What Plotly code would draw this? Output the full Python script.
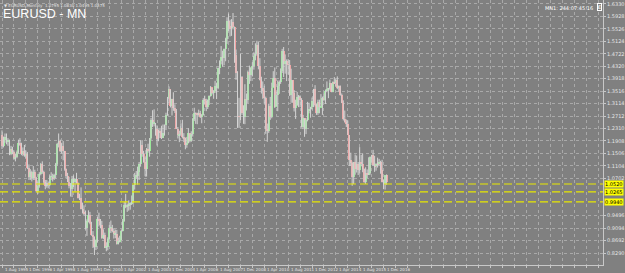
import pandas as pd
import plotly.graph_objects as go

# ---------------- data (monthly EURUSD, Aug 1995 .. Feb 2017) ----------------
opens = [
 1.2100, 1.1750, 1.1950, 1.2050, 1.1900,
 1.1900, 1.1500, 1.1650, 1.1550, 1.1350, 1.1400, 1.1550, 1.1850, 1.1800, 1.1500, 1.1600, 1.1450,
 1.1500, 1.1050, 1.0750, 1.0900, 1.0700, 1.0900, 1.0700, 1.0300, 1.0450, 1.0850, 1.1150, 1.0900,
 1.0600, 1.0450, 1.0550, 1.0500, 1.0750, 1.0750, 1.0700, 1.0800, 1.1150, 1.1800, 1.1900, 1.1600,
 1.1743, 1.1580, 1.0990, 1.0765, 1.0590, 1.0440, 1.0345, 1.0690, 1.0575, 1.0675, 1.0550, 1.0080,
 1.0070, 0.9705, 0.9630, 0.9570, 0.9110, 0.9330, 0.9530, 0.9260, 0.8860, 0.8810, 0.8490, 0.8700,
 0.9400, 0.9350, 0.9210, 0.8790, 0.8890, 0.8460, 0.8490, 0.8760, 0.9110, 0.9110, 0.9010, 0.8900,
 0.8900, 0.8590, 0.8680, 0.8720, 0.9010, 0.9330, 0.9850, 0.9790, 0.9810, 0.9860, 0.9890, 0.9940,
 1.0490, 1.0760, 1.0790, 1.0910, 1.1150, 1.1790, 1.1480, 1.1240, 1.0990, 1.1650, 1.1600, 1.1990,
 1.2590, 1.2480, 1.2480, 1.2290, 1.1970, 1.2200, 1.2170, 1.2020, 1.2170, 1.2420, 1.2760, 1.3280,
 1.3570, 1.3040, 1.3260, 1.2970, 1.2870, 1.2300, 1.2100, 1.2130, 1.2340, 1.2030, 1.1990, 1.1790,
 1.1840, 1.2150, 1.1920, 1.2120, 1.2620, 1.2810, 1.2790, 1.2760, 1.2810, 1.2680, 1.2760, 1.3240,
 1.3200, 1.3020, 1.3230, 1.3350, 1.3650, 1.3450, 1.3530, 1.3690, 1.3620, 1.4270, 1.4490, 1.4630,
 1.4590, 1.4860, 1.5190, 1.5790, 1.5610, 1.5550, 1.5750, 1.5600, 1.4670, 1.4090, 1.2710, 1.2690,
 1.3970, 1.2800, 1.2670, 1.3250, 1.3240, 1.4150, 1.4030, 1.4250, 1.4330, 1.4640, 1.4720, 1.5000,
 1.4340, 1.3860, 1.3630, 1.3510, 1.3300, 1.2300, 1.2230, 1.3050, 1.2690, 1.3630, 1.3940, 1.3000,
 1.3380, 1.3690, 1.3800, 1.4160, 1.4810, 1.4390, 1.4500, 1.4390, 1.4370, 1.3390, 1.3870, 1.3450,
 1.2960, 1.3080, 1.3320, 1.3340, 1.3240, 1.2370, 1.2660, 1.2310, 1.2580, 1.2860, 1.2950, 1.2990,
 1.3190, 1.3580, 1.3060, 1.2820, 1.3170, 1.3000, 1.3010, 1.3300, 1.3220, 1.3530, 1.3580, 1.3590,
 1.3790, 1.3490, 1.3810, 1.3770, 1.3870, 1.3630, 1.3690, 1.3390, 1.3130, 1.2630, 1.2520, 1.2450,
 1.2100, 1.1290, 1.1190, 1.0730, 1.1220, 1.0990, 1.1150, 1.0980, 1.1210, 1.1170, 1.1000, 1.0570,
 1.0860, 1.0830, 1.0870, 1.1380, 1.1450, 1.1130, 1.1100, 1.1170, 1.1160, 1.1240, 1.0980, 1.0590,
 1.0520, 1.0795,
]
highs = [
 1.2250, 1.2050, 1.2150, 1.2150, 1.2000,
 1.1950, 1.1750, 1.1720, 1.1600, 1.1500, 1.1600, 1.1950, 1.2000, 1.1850, 1.1700, 1.1780, 1.1600,
 1.1550, 1.1150, 1.1000, 1.0950, 1.1100, 1.0980, 1.0750, 1.0600, 1.0900, 1.1200, 1.1250, 1.0950,
 1.0650, 1.0650, 1.0600, 1.0800, 1.0900, 1.0850, 1.0850, 1.1200, 1.1850, 1.2150, 1.1950, 1.1850,
 1.1906, 1.1590, 1.1020, 1.0880, 1.0750, 1.0550, 1.0780, 1.0800, 1.0700, 1.0880, 1.0570, 1.0210,
 1.0410, 0.9920, 0.9830, 0.9650, 0.9380, 0.9670, 0.9620, 0.9300, 0.9000, 0.8830, 0.8730, 0.9460,
 0.9595, 0.9390, 0.9330, 0.9060, 0.8950, 0.8640, 0.8800, 0.9200, 0.9340, 0.9200, 0.9090, 0.9050,
 0.9040, 0.8790, 0.8850, 0.9040, 0.9390, 0.9940, 1.0200, 0.9890, 0.9990, 0.9930, 1.0150, 1.0500,
 1.0880, 1.0940, 1.1080, 1.1230, 1.1930, 1.1935, 1.1590, 1.1380, 1.1680, 1.1820, 1.2000, 1.2650,
 1.2900, 1.2930, 1.2490, 1.2410, 1.2280, 1.2330, 1.2400, 1.2440, 1.2440, 1.2820, 1.3330, 1.3667,
 1.3570, 1.3270, 1.3480, 1.3090, 1.2940, 1.2360, 1.2240, 1.2480, 1.2590, 1.2160, 1.2020, 1.2040,
 1.2320, 1.2150, 1.2220, 1.2650, 1.2980, 1.2830, 1.2820, 1.2920, 1.2880, 1.2780, 1.3290, 1.3370,
 1.3270, 1.3250, 1.3380, 1.3680, 1.3620, 1.3550, 1.3850, 1.3790, 1.4280, 1.4510, 1.4970, 1.4820,
 1.4890, 1.5240, 1.5900, 1.6020, 1.5820, 1.5840, 1.6038, 1.5600, 1.4860, 1.4160, 1.3300, 1.4720,
 1.4000, 1.3060, 1.3740, 1.3440, 1.4180, 1.4340, 1.4300, 1.4450, 1.4770, 1.5060, 1.5140, 1.5100,
 1.4580, 1.3980, 1.3830, 1.3690, 1.3340, 1.2470, 1.3110, 1.3330, 1.3790, 1.4160, 1.4280, 1.3500,
 1.3860, 1.3860, 1.4250, 1.4880, 1.4940, 1.4700, 1.4540, 1.4550, 1.4520, 1.4240, 1.3870, 1.3550,
 1.3240, 1.3490, 1.3390, 1.3380, 1.3290, 1.2750, 1.2640, 1.2640, 1.3170, 1.3140, 1.3010, 1.3310,
 1.3590, 1.3710, 1.3120, 1.3240, 1.3240, 1.3420, 1.3340, 1.3450, 1.3570, 1.3830, 1.3620, 1.3890,
 1.3770, 1.3830, 1.3970, 1.3900, 1.3993, 1.3700, 1.3700, 1.3440, 1.3220, 1.2890, 1.2600, 1.2570,
 1.2100, 1.1530, 1.1240, 1.1230, 1.1470, 1.1440, 1.1230, 1.1710, 1.1460, 1.1500, 1.1020, 1.1060,
 1.0990, 1.1380, 1.1410, 1.1460, 1.1620, 1.1430, 1.1190, 1.1370, 1.1330, 1.1270, 1.1300, 1.0670,
 1.0800, 1.0830,
]
lows = [
 1.1650, 1.1700, 1.1850, 1.1800, 1.1750,
 1.1450, 1.1450, 1.1480, 1.1300, 1.1250, 1.1350, 1.1500, 1.1750, 1.1450, 1.1420, 1.1400, 1.1350,
 1.1000, 1.0650, 1.0650, 1.0600, 1.0650, 1.0650, 1.0250, 1.0200, 1.0400, 1.0800, 1.0850, 1.0500,
 1.0350, 1.0400, 1.0380, 1.0450, 1.0650, 1.0600, 1.0650, 1.0700, 1.1100, 1.1700, 1.1550, 1.1500,
 1.1285, 1.0950, 1.0700, 1.0580, 1.0380, 1.0115, 1.0100, 1.0420, 1.0250, 1.0530, 1.0050, 1.0000,
 0.9700, 0.9570, 0.9500, 0.9050, 0.8845, 0.9280, 0.9220, 0.8850, 0.8455, 0.8228, 0.8390, 0.8640,
 0.9150, 0.9090, 0.8750, 0.8740, 0.8450, 0.8350, 0.8380, 0.8720, 0.8940, 0.8960, 0.8760, 0.8770,
 0.8564, 0.8570, 0.8630, 0.8700, 0.8990, 0.9300, 0.9740, 0.9620, 0.9660, 0.9690, 0.9840, 0.9880,
 1.0340, 1.0680, 1.0500, 1.0650, 1.1080, 1.1400, 1.1210, 1.0770, 1.0760, 1.1530, 1.1400, 1.1950,
 1.2360, 1.2380, 1.2080, 1.1760, 1.1900, 1.2000, 1.1970, 1.2000, 1.2080, 1.2260, 1.2720, 1.3140,
 1.2990, 1.2730, 1.2880, 1.2810, 1.2300, 1.1990, 1.1870, 1.2070, 1.1990, 1.1870, 1.1640, 1.1690,
 1.1830, 1.1860, 1.1880, 1.2050, 1.2550, 1.2460, 1.2450, 1.2720, 1.2650, 1.2480, 1.2730, 1.3100,
 1.2870, 1.2940, 1.3070, 1.3340, 1.3410, 1.3270, 1.3460, 1.3260, 1.3580, 1.4060, 1.4380, 1.4310,
 1.4350, 1.4480, 1.5040, 1.5450, 1.5280, 1.5300, 1.5510, 1.4430, 1.3880, 1.2330, 1.2330, 1.2580,
 1.2750, 1.2460, 1.2450, 1.2890, 1.3130, 1.3750, 1.3840, 1.3990, 1.4210, 1.4510, 1.4660, 1.4220,
 1.3860, 1.3440, 1.3270, 1.3110, 1.2140, 1.1880, 1.2170, 1.2590, 1.2640, 1.3650, 1.2970, 1.3030,
 1.2870, 1.3430, 1.3750, 1.4100, 1.3970, 1.4080, 1.3840, 1.4050, 1.3360, 1.3140, 1.3140, 1.2860,
 1.2620, 1.3040, 1.3000, 1.3000, 1.2340, 1.2290, 1.2042, 1.2130, 1.2540, 1.2800, 1.2660, 1.2920,
 1.3000, 1.3020, 1.2750, 1.2750, 1.2800, 1.3000, 1.2750, 1.3190, 1.3100, 1.3480, 1.3290, 1.3540,
 1.3480, 1.3480, 1.3750, 1.3670, 1.3580, 1.3500, 1.3370, 1.3130, 1.2570, 1.2500, 1.2360, 1.2100,
 1.1100, 1.1100, 1.0462, 1.0520, 1.0820, 1.0890, 1.0810, 1.0850, 1.1090, 1.0900, 1.0560, 1.0520,
 1.0710, 1.0810, 1.0820, 1.1210, 1.1100, 1.0910, 1.0950, 1.1050, 1.1120, 1.0850, 1.0570, 1.0352,
 1.0340, 1.0495,
]
closes = [
 1.1750, 1.1950, 1.2050, 1.1900, 1.1900,
 1.1500, 1.1650, 1.1550, 1.1350, 1.1400, 1.1550, 1.1850, 1.1800, 1.1500, 1.1600, 1.1450, 1.1500,
 1.1050, 1.0750, 1.0900, 1.0700, 1.0900, 1.0700, 1.0300, 1.0450, 1.0850, 1.1150, 1.0900, 1.0600,
 1.0450, 1.0550, 1.0500, 1.0750, 1.0750, 1.0700, 1.0800, 1.1150, 1.1800, 1.1900, 1.1600, 1.1730,
 1.1580, 1.0990, 1.0765, 1.0590, 1.0440, 1.0345, 1.0690, 1.0575, 1.0675, 1.0550, 1.0080, 1.0070,
 0.9705, 0.9630, 0.9570, 0.9110, 0.9330, 0.9530, 0.9260, 0.8860, 0.8810, 0.8490, 0.8700, 0.9400,
 0.9350, 0.9210, 0.8790, 0.8890, 0.8460, 0.8490, 0.8760, 0.9110, 0.9110, 0.9010, 0.8900, 0.8900,
 0.8590, 0.8680, 0.8720, 0.9010, 0.9330, 0.9850, 0.9790, 0.9810, 0.9860, 0.9890, 0.9940, 1.0490,
 1.0760, 1.0790, 1.0910, 1.1150, 1.1790, 1.1480, 1.1240, 1.0990, 1.1650, 1.1600, 1.1990, 1.2590,
 1.2480, 1.2480, 1.2290, 1.1970, 1.2200, 1.2170, 1.2020, 1.2170, 1.2420, 1.2760, 1.3280, 1.3570,
 1.3040, 1.3260, 1.2970, 1.2870, 1.2300, 1.2100, 1.2130, 1.2340, 1.2030, 1.1990, 1.1790, 1.1840,
 1.2150, 1.1920, 1.2120, 1.2620, 1.2810, 1.2790, 1.2760, 1.2810, 1.2680, 1.2760, 1.3240, 1.3200,
 1.3020, 1.3230, 1.3350, 1.3650, 1.3450, 1.3530, 1.3690, 1.3620, 1.4270, 1.4490, 1.4630, 1.4590,
 1.4860, 1.5190, 1.5790, 1.5610, 1.5550, 1.5750, 1.5600, 1.4670, 1.4090, 1.2710, 1.2690, 1.3970,
 1.2800, 1.2670, 1.3250, 1.3240, 1.4150, 1.4030, 1.4250, 1.4330, 1.4640, 1.4720, 1.5000, 1.4340,
 1.3860, 1.3630, 1.3510, 1.3300, 1.2300, 1.2230, 1.3050, 1.2690, 1.3630, 1.3940, 1.3000, 1.3380,
 1.3690, 1.3800, 1.4160, 1.4810, 1.4390, 1.4500, 1.4390, 1.4370, 1.3390, 1.3870, 1.3450, 1.2960,
 1.3080, 1.3320, 1.3340, 1.3240, 1.2370, 1.2660, 1.2310, 1.2580, 1.2860, 1.2950, 1.2990, 1.3190,
 1.3580, 1.3060, 1.2820, 1.3170, 1.3000, 1.3010, 1.3300, 1.3220, 1.3530, 1.3580, 1.3590, 1.3790,
 1.3490, 1.3810, 1.3770, 1.3870, 1.3630, 1.3690, 1.3390, 1.3130, 1.2630, 1.2520, 1.2450, 1.2100,
 1.1290, 1.1190, 1.0730, 1.1220, 1.0990, 1.1150, 1.0980, 1.1210, 1.1170, 1.1000, 1.0570, 1.0860,
 1.0830, 1.0870, 1.1380, 1.1450, 1.1130, 1.1100, 1.1170, 1.1160, 1.1240, 1.0980, 1.0590, 1.0520,
 1.0795, 1.0575,
]
first_month = "1995-08-01"

date_labels = ["1 Aug 1995", "1 Dec 1996", "1 Apr 1998", "1 Aug 1999", "1 Dec 2000",
               "1 Apr 2002", "1 Aug 2003", "1 Dec 2004", "1 Apr 2006", "1 Aug 2007",
               "1 Dec 2008", "1 Apr 2010", "1 Aug 2011", "1 Dec 2012", "1 Apr 2014",
               "1 Aug 2015", "1 Dec 2016"]
price_ticks = [1.6330, 1.5928, 1.5526, 1.5124, 1.4722, 1.4320, 1.3918, 1.3516, 1.3114,
               1.2712, 1.2310, 1.1908, 1.1506, 1.1104, 1.0702, 1.0300, 0.9898, 0.9496,
               0.9094, 0.8692, 0.8290, 0.7888]
yellow_levels = [1.0520, 1.0265, 0.9940]
title_text = "EURUSD - MN"
info_text = "\u25BC EURUSD,Monthly  1.0795 1.0830 1.0495 1.0575"
timer_text = "MN1: 244:07:45:16"

# ---------------- figure ----------------
dates = pd.date_range(first_month, periods=len(closes), freq="MS")

BG = "#808080"
GRID = "#a9a9a9"
TXT = "#e6e6e6"
Y_RANGE = [0.7906, 1.6457]
X_RANGE = ["1995-06-21", "2029-03-10"]
PLOT_H = 265

wx, wy = [], []
for d, lo, hi in zip(dates, lows, highs):
    wx += [d, d, None]
    wy += [lo, hi, None]

bases = [min(o, c) for o, c in zip(opens, closes)]
heights = [max(abs(c - o), 0.0015) for o, c in zip(opens, closes)]
colors = ["#96e896" if c >= o else "#f4a0a0" for o, c in zip(opens, closes)]

fig = go.Figure()
fig.add_trace(go.Scatter(x=wx, y=wy, mode="lines",
                         line=dict(color="#d4d4d4", width=1), hoverinfo="skip",
                         showlegend=False))
fig.add_trace(go.Bar(x=dates, y=heights, base=bases,
                     width=20 * 86400000, marker=dict(color=colors, line=dict(width=0)),
                     showlegend=False))

for lv in yellow_levels:
    fig.add_hline(y=lv, line=dict(color="#e8e800", width=1.2, dash="8px,4px"))
    fig.add_annotation(x=1, xref="paper", y=lv, yref="y", text=f"{lv:.4f}",
                       showarrow=False, xanchor="left", xshift=1,
                       bgcolor="#ffff00", font=dict(size=5, color="#000000", family="DejaVu Sans"),
                       borderpad=0)

# hide axis labels that would sit under a yellow price label
px_per_unit = PLOT_H / (Y_RANGE[1] - Y_RANGE[0])
shown_ticks = [v for v in price_ticks
               if all(abs(v - lv) * px_per_unit > 5 for lv in yellow_levels)]

label_dates = pd.to_datetime(date_labels, format="%d %b %Y")
for d, t in zip(label_dates, date_labels):
    fig.add_annotation(x=d, xref="x", y=0, yref="paper", text=t, showarrow=False,
                       xanchor="left", yanchor="top", xshift=1, yshift=0,
                       font=dict(size=4, color=TXT, family="DejaVu Sans"))

grid_dates = pd.date_range(first_month, "2030-01-01", freq="8MS")

fig.add_annotation(x=0, xref="paper", y=1, yref="paper", text=info_text, showarrow=False,
                   xanchor="left", yanchor="top", xshift=2, yshift=-1,
                   font=dict(size=4, color=TXT, family="DejaVu Sans"))
fig.add_annotation(x=0, xref="paper", y=1, yref="paper", text=title_text, showarrow=False,
                   xanchor="left", yanchor="top", xshift=1, yshift=-5,
                   font=dict(size=12.5, color="#ffffff", family="Liberation Sans"))
fig.add_annotation(x=1, xref="paper", y=1, yref="paper", text=timer_text, showarrow=False,
                   xanchor="right", yanchor="top", xshift=-8, yshift=-3,
                   font=dict(size=5, color="#ffffff", family="DejaVu Sans"))
fig.add_annotation(x=1, xref="paper", y=1, yref="paper", text="E", showarrow=False,
                   xanchor="right", yanchor="top", xshift=-1, yshift=-3,
                   bordercolor="#ffffff", borderwidth=1, borderpad=0,
                   font=dict(size=5, color="#ffffff", family="DejaVu Sans"))

fig.update_layout(
    width=625, height=273,
    margin=dict(l=0, r=18, t=0, b=8),
    paper_bgcolor=BG, plot_bgcolor=BG,
    bargap=0, showlegend=False,
    xaxis=dict(type="date", range=X_RANGE,
               tickvals=list(grid_dates), ticktext=[""] * len(grid_dates),
               showgrid=True, gridcolor=GRID, griddash="dot", gridwidth=1,
               showline=True, linecolor="#c8c8c8", linewidth=1,
               ticks="outside", ticklen=2, tickcolor="#c8c8c8",
               zeroline=False, rangeslider=dict(visible=False), fixedrange=True),
    yaxis=dict(side="right", range=Y_RANGE,
               tickvals=shown_ticks, ticktext=[f"{v:.4f}" for v in shown_ticks],
               tickfont=dict(size=5, color=TXT, family="DejaVu Sans"),
               showgrid=True, gridcolor=GRID, griddash="dot", gridwidth=1,
               showline=True, linecolor="#c8c8c8", linewidth=1,
               ticks="outside", ticklen=2, tickcolor="#c8c8c8",
               zeroline=False, fixedrange=True),
)

fig.write_html("out.html")
